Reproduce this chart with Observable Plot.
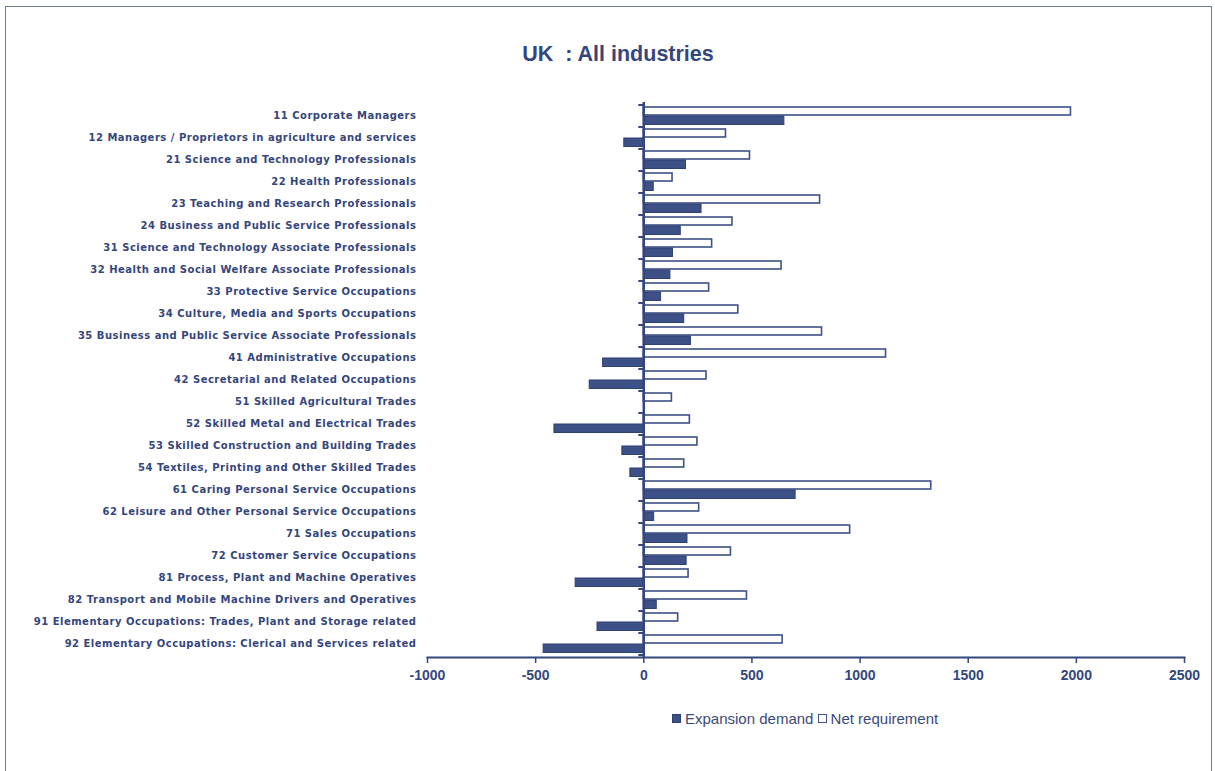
<!DOCTYPE html>
<html>
<head>
<meta charset="utf-8">
<script src="https://cdn.jsdelivr.net/npm/d3@7"></script>
<script src="https://cdn.jsdelivr.net/npm/@observablehq/plot@0.6"></script>
<style>
  body { margin: 0; background: #fff; width: 1215px; height: 771px; overflow: hidden; position: relative; }
  #frame { position: absolute; left: 5px; top: 6px; width: 1207px; height: 800px; border: 1px solid #6f7ba3; box-sizing: border-box; }
  #title { position: absolute; top: 42px; left: 0; width: 1236px; text-align: center; font: bold 21.5px "Liberation Sans", Arial, sans-serif; color: #34467c; }
  #chart { position: absolute; top: 90px; left: 0; }
  #legend { position: absolute; top: 710px; left: 672px; font: 15px "Liberation Sans", Arial, sans-serif; color: #3b4a7c; display: flex; align-items: center; }
  .sw { display: inline-block; width: 9px; height: 9px; margin-right: 4px; box-sizing: border-box; }
  g[aria-label="y-axis tick label"] text { letter-spacing: 0.5px; }
</style>
</head>
<body>
<div id="frame"></div>
<div id="title">UK&nbsp; : All industries</div>
<div id="chart"></div>
<div id="legend">
  <span class="sw" style="background:#3d5186;border:1px solid #2e3f72"></span><span>Expansion demand&nbsp;</span>
  <span class="sw" style="background:#fff;border:1.5px solid #3d5186"></span><span>Net requirement</span>
</div>
<script>
const categories = [
  "11 Corporate Managers",
  "12 Managers / Proprietors in agriculture and services",
  "21 Science and Technology Professionals",
  "22 Health Professionals",
  "23 Teaching and Research Professionals",
  "24 Business and Public Service Professionals",
  "31 Science and Technology Associate Professionals",
  "32 Health and Social Welfare Associate Professionals",
  "33 Protective Service Occupations",
  "34 Culture, Media and Sports Occupations",
  "35 Business and Public Service Associate Professionals",
  "41 Administrative Occupations",
  "42 Secretarial and Related Occupations",
  "51 Skilled Agricultural Trades",
  "52 Skilled Metal and Electrical Trades",
  "53 Skilled Construction and Building Trades",
  "54 Textiles, Printing and Other Skilled Trades",
  "61 Caring Personal Service Occupations",
  "62 Leisure and Other Personal Service Occupations",
  "71 Sales Occupations",
  "72 Customer Service Occupations",
  "81 Process, Plant and Machine Operatives",
  "82 Transport and Mobile Machine Drivers and Operatives",
  "91 Elementary Occupations: Trades, Plant and Storage related",
  "92 Elementary Occupations: Clerical and Services related"
];
const expansionDemand = [650, -90, 195, 46, 267, 171, 135, 123, 80, 187, 218, -188, -250, 0, -413, -99, -62, 702, 48, 202, 198, -315, 60, -214, -463];
const netRequirement = [1975, 380, 491, 133, 815, 410, 316, 637, 302, 437, 824, 1120, 290, 130, 213, 248, 187, 1329, 256, 954, 403, 207, 477, 159, 642];
const xTicks = [-1000, -500, 0, 500, 1000, 1500, 2000, 2500];

const navy = "#34467c";
const dark = "#3d5186";

const rows = categories.map((c, i) => ({category: c, expansion: expansionDemand[i], net: netRequirement[i]}));

const bandTicks = (index, scales) => {
  const g = d3.create("svg:g");
  const y0 = scales.y(categories[0]);
  const step = scales.y(categories[1]) - y0;
  const x0 = scales.x(0);
  for (let i = 0; i <= categories.length; i++) {
    const yy = y0 + i * step;
    g.append("line").attr("x1", x0 - 5).attr("x2", x0).attr("y1", yy).attr("y2", yy)
      .attr("stroke", navy).attr("stroke-width", 2);
  }
  return g.node();
};

const chart = Plot.plot({
  width: 1215,
  height: 620,
  marginTop: 12,
  marginBottom: 53,
  marginLeft: 427,
  marginRight: 31,
  style: {fontFamily: "'Liberation Sans', Arial, sans-serif", color: navy, background: "transparent"},
  x: {domain: [-1000, 2500], ticks: xTicks},
  y: {domain: categories, padding: 0},
  marks: [
    Plot.barX(rows, {y: "category", x: "net", fill: "#fff", stroke: dark, strokeWidth: 1.6, insetTop: 2, insetBottom: 12}),
    Plot.barX(rows, {y: "category", x: "expansion", fill: dark, stroke: "#2e3f72", strokeWidth: 1, insetTop: 11, insetBottom: 2.5}),
    Plot.ruleX([0], {stroke: navy, strokeWidth: 2.5}),
    bandTicks,
    Plot.frame({anchor: "bottom", stroke: navy, strokeWidth: 2}),
    Plot.axisX({ticks: xTicks, tickSize: 6, tickPadding: 7, tickFormat: d => String(d), fontSize: 14, fontWeight: "bold", label: null, stroke: navy, strokeWidth: 1.5}),
    Plot.axisY({tickSize: 0, tickPadding: 11, fontSize: 10, fontWeight: "bold", fontFamily: "'DejaVu Sans', Verdana, sans-serif", label: null, dy: -1})
  ]
});
document.getElementById("chart").appendChild(chart);
</script>
</body>
</html>
